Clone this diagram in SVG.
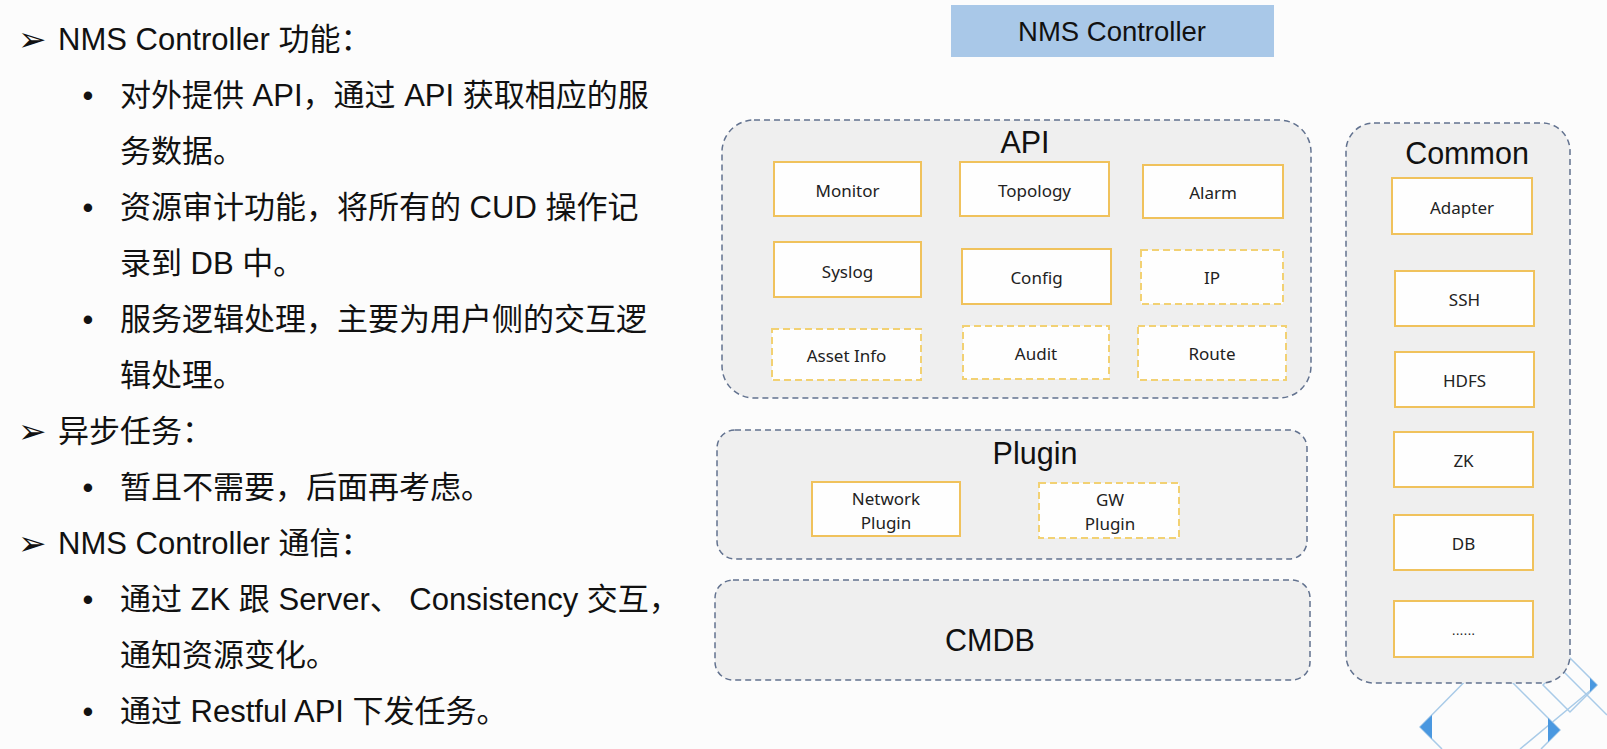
<svg xmlns="http://www.w3.org/2000/svg" width="1607" height="749" viewBox="0 0 1607 749">
<style>
.bg{fill:#fcfcfc}
.txt{font-family:"Liberation Sans","Noto Sans CJK SC",sans-serif;font-size:31px;fill:#111}
.arrow{font-family:"DejaVu Sans",sans-serif;font-size:34px;fill:#111}
.dot{font-family:"Liberation Sans",sans-serif;font-size:31px;fill:#111;text-anchor:middle}
.container{fill:#efefef;stroke:#62728f;stroke-width:1.5;stroke-dasharray:6 4}
.clabel{font-family:"Liberation Sans",sans-serif;font-size:30.5px;fill:#111;text-anchor:middle;dominant-baseline:central}
.box{fill:#fefefe;stroke:#f0c25c;stroke-width:2}
.dbox{fill:#fefefe;stroke:#f2d173;stroke-width:2;stroke-dasharray:7 4}
.blabel{font-family:"Noto Sans",sans-serif;font-size:17px;fill:#222;text-anchor:middle;dominant-baseline:central}
.deco{fill:none;stroke:#a9cbe8;stroke-width:1.5}
.tri{fill:#4a98e0}
</style>
<rect class="bg" x="0" y="0" width="1607" height="749"/>

<!-- decoration bottom right -->
<g id="decoration">
<path class="deco" d="M1488,658 L1420,727 L1442,749 M1488,658 L1560,730 L1541,749"/>
<path class="deco" d="M1570,658 L1597,685 L1570,712 L1543,685 Z"/>
<path class="deco" d="M1560,668 L1607,715 M1597,685 L1520,749"/>
<polygon class="tri" points="1420,727 1432,715 1432,739"/>
<polygon class="tri" points="1560,730 1548,718 1548,742"/>
<polygon class="tri" points="1597,685 1590,678 1590,692"/>
</g>

<!-- left text -->
<g id="text-panel">
<text class="arrow" x="18" y="51">➢</text>
<text class="txt" x="58" y="50">NMS Controller 功能：</text>
<text class="dot" x="88" y="106">•</text>
<text class="txt" x="120" y="106">对外提供 API，通过 API 获取相应的服</text>
<text class="txt" x="120" y="162">务数据。</text>
<text class="dot" x="88" y="218">•</text>
<text class="txt" x="120" y="218">资源审计功能，将所有的 CUD 操作记</text>
<text class="txt" x="120" y="274">录到 DB 中。</text>
<text class="dot" x="88" y="330">•</text>
<text class="txt" x="120" y="330">服务逻辑处理，主要为用户侧的交互逻</text>
<text class="txt" x="120" y="386">辑处理。</text>
<text class="arrow" x="18" y="443">➢</text>
<text class="txt" x="58" y="442">异步任务：</text>
<text class="dot" x="88" y="498">•</text>
<text class="txt" x="120" y="498">暂且不需要，后面再考虑。</text>
<text class="arrow" x="18" y="555">➢</text>
<text class="txt" x="58" y="554">NMS Controller 通信：</text>
<text class="dot" x="88" y="610">•</text>
<text class="txt" x="120" y="610">通过 ZK 跟 Server、 Consistency 交互，</text>
<text class="txt" x="120" y="666">通知资源变化。</text>
<text class="dot" x="88" y="722">•</text>
<text class="txt" x="120" y="722">通过 Restful API 下发任务。</text>
</g>

<!-- title -->
<g id="title">
<rect x="951" y="5" width="323" height="52" fill="#a9c8e8"/>
<text x="1112" y="31" font-family="Liberation Sans, sans-serif" font-size="27.5" fill="#111" text-anchor="middle" dominant-baseline="central">NMS Controller</text>
</g>

<!-- API group -->
<g id="api">
<rect class="container" x="722" y="120" width="589" height="278" rx="32"/>
<text class="clabel" x="1025" y="142">API</text>
</g>
<g id="monitor"><rect class="box" x="774" y="162" width="147" height="54"/><text class="blabel" x="847.5" y="190">Monitor</text></g>
<g id="topology"><rect class="box" x="960" y="162" width="149" height="54"/><text class="blabel" x="1034.5" y="190">Topology</text></g>
<g id="alarm"><rect class="box" x="1143" y="165" width="140" height="53"/><text class="blabel" x="1213" y="192">Alarm</text></g>
<g id="syslog"><rect class="box" x="774" y="242" width="147" height="55"/><text class="blabel" x="847.5" y="271">Syslog</text></g>
<g id="config"><rect class="box" x="962" y="249" width="149" height="55"/><text class="blabel" x="1036.5" y="277">Config</text></g>
<g id="ip"><rect class="dbox" x="1141" y="250" width="142" height="54"/><text class="blabel" x="1212" y="277">IP</text></g>
<g id="asset-info"><rect class="dbox" x="772" y="329" width="149" height="51"/><text class="blabel" x="846.5" y="355">Asset Info</text></g>
<g id="audit"><rect class="dbox" x="963" y="326" width="146" height="53"/><text class="blabel" x="1036" y="353">Audit</text></g>
<g id="route"><rect class="dbox" x="1138" y="326" width="148" height="54"/><text class="blabel" x="1212" y="353">Route</text></g>

<!-- Plugin group -->
<g id="plugin">
<rect class="container" x="717" y="430" width="590" height="129" rx="18"/>
<text class="clabel" x="1035" y="453">Plugin</text>
</g>
<g id="network-plugin"><rect class="box" x="812" y="482" width="148" height="54"/><text class="blabel" x="886" y="498">Network</text><text class="blabel" x="886" y="522">Plugin</text></g>
<g id="gw-plugin"><rect class="dbox" x="1039" y="483" width="140" height="55"/><text class="blabel" x="1110" y="499">GW</text><text class="blabel" x="1110" y="523">Plugin</text></g>

<!-- CMDB -->
<g id="cmdb">
<rect class="container" x="715" y="580" width="595" height="100" rx="18"/>
<text class="clabel" x="990" y="640">CMDB</text>
</g>

<!-- Common group -->
<g id="common">
<rect class="container" x="1346" y="123" width="224" height="560" rx="28"/>
<text class="clabel" x="1467" y="153">Common</text>
</g>
<g id="adapter"><rect class="box" x="1392" y="178" width="140" height="56"/><text class="blabel" x="1462" y="207">Adapter</text></g>
<g id="ssh"><rect class="box" x="1395" y="271" width="139" height="55"/><text class="blabel" x="1464.5" y="299">SSH</text></g>
<g id="hdfs"><rect class="box" x="1395" y="352" width="139" height="55"/><text class="blabel" x="1464.5" y="380">HDFS</text></g>
<g id="zk"><rect class="box" x="1394" y="432" width="139" height="55"/><text class="blabel" x="1463.5" y="460">ZK</text></g>
<g id="db"><rect class="box" x="1394" y="515" width="139" height="55"/><text class="blabel" x="1463.5" y="543">DB</text></g>
<g id="more"><rect class="box" x="1394" y="601" width="139" height="56"/><text x="1463.5" y="635" font-family="Liberation Sans, sans-serif" font-size="14" fill="#222" text-anchor="middle">......</text></g>

<g id="connectors"></g>
</svg>
